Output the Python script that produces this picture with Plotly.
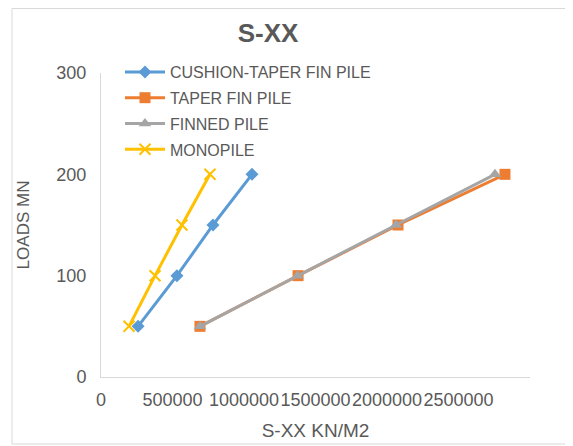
import plotly.graph_objects as go

loads = [50, 100, 150, 200]
cushion_taper_x = [259000, 531000, 783000, 1056000]
taper_fin_x = [692000, 1378000, 2077000, 2825000]
finned_x = [692000, 1375000, 2063000, 2755000]
monopile_x = [196000, 378000, 566000, 762000]

x_tick_vals = [0, 500000, 1000000, 1500000, 2000000, 2500000]
x_tick_text = ["0", "500000", "1000000", "1500000", "2000000", "2500000"]
y_tick_vals = [0, 100, 200, 300]

FONT = "Liberation Sans"
TXT = "#595959"

L, T, R, B = 93, 65, 51, 77
PW, PH = 573 - L - R, 446 - T - B

fig = go.Figure()
series = [
    ("CUSHION-TAPER FIN PILE", cushion_taper_x, "#5B9BD5", dict(symbol="diamond", size=10)),
    ("TAPER FIN PILE", taper_fin_x, "#ED7D31", dict(symbol="square", size=11)),
    ("FINNED PILE", finned_x, "#A5A5A5", dict(symbol="triangle-up", size=11)),
    ("MONOPILE", monopile_x, "#FFC000", dict(symbol="x-thin-open", size=11, line=dict(width=2, color="#FFC000"))),
]
for i, (name, xs, col, mk) in enumerate(series):
    mk = dict(mk)
    mk["color"] = col
    fig.add_trace(go.Scatter(
        x=xs, y=loads, name=name, mode="lines+markers",
        line=dict(color=col, width=3), marker=mk,
        legendgroup="g%d" % i,
    ))

fig.update_layout(
    width=573, height=446,
    margin=dict(l=L, r=R, t=T, b=B),
    paper_bgcolor="white", plot_bgcolor="white",
    font=dict(family=FONT, color=TXT, size=16),
    title=dict(text="<b>S-XX</b>", x=260 / 573, xanchor="center", y=1 - 25 / 446, yanchor="middle",
               font=dict(family=FONT, size=26, color=TXT)),
    showlegend=True,
    legend=dict(x=(112 - L) / PW, y=(PH + T - 47) / PH, xanchor="left", yanchor="top",
                bgcolor="rgba(0,0,0,0)", font=dict(size=16, color=TXT, family=FONT),
                tracegroupgap=2, itemwidth=40),
    xaxis=dict(range=[0, 3000000], tickvals=x_tick_vals, ticktext=x_tick_text, tickangle=0,
               showgrid=False, zeroline=False, showline=True, linecolor="#D9D9D9", linewidth=1,
               ticks="outside", ticklen=6, tickcolor="rgba(0,0,0,0)",
               tickfont=dict(size=18, color=TXT, family=FONT),
               title=dict(text="S-XX KN/M2", font=dict(size=19, color=TXT, family=FONT), standoff=15)),
    yaxis=dict(range=[0, 300], tickvals=y_tick_vals,
               showgrid=False, zeroline=False, showline=True, linecolor="#D9D9D9", linewidth=1,
               ticks="outside", ticklen=10, tickcolor="rgba(0,0,0,0)",
               tickfont=dict(size=18, color=TXT, family=FONT),
               title=dict(text="LOADS MN", font=dict(size=17, color=TXT, family=FONT), standoff=22)),
    shapes=[dict(type="rect", xref="paper", yref="paper",
                 x0=(4 - L) / PW, x1=(590 - L) / PW,
                 y0=(PH + T - 436) / PH, y1=(PH + T - 0.5) / PH,
                 line=dict(color="#D9D9D9", width=1), fillcolor="rgba(0,0,0,0)", layer="below")],
)

fig.write_html("out.html")
